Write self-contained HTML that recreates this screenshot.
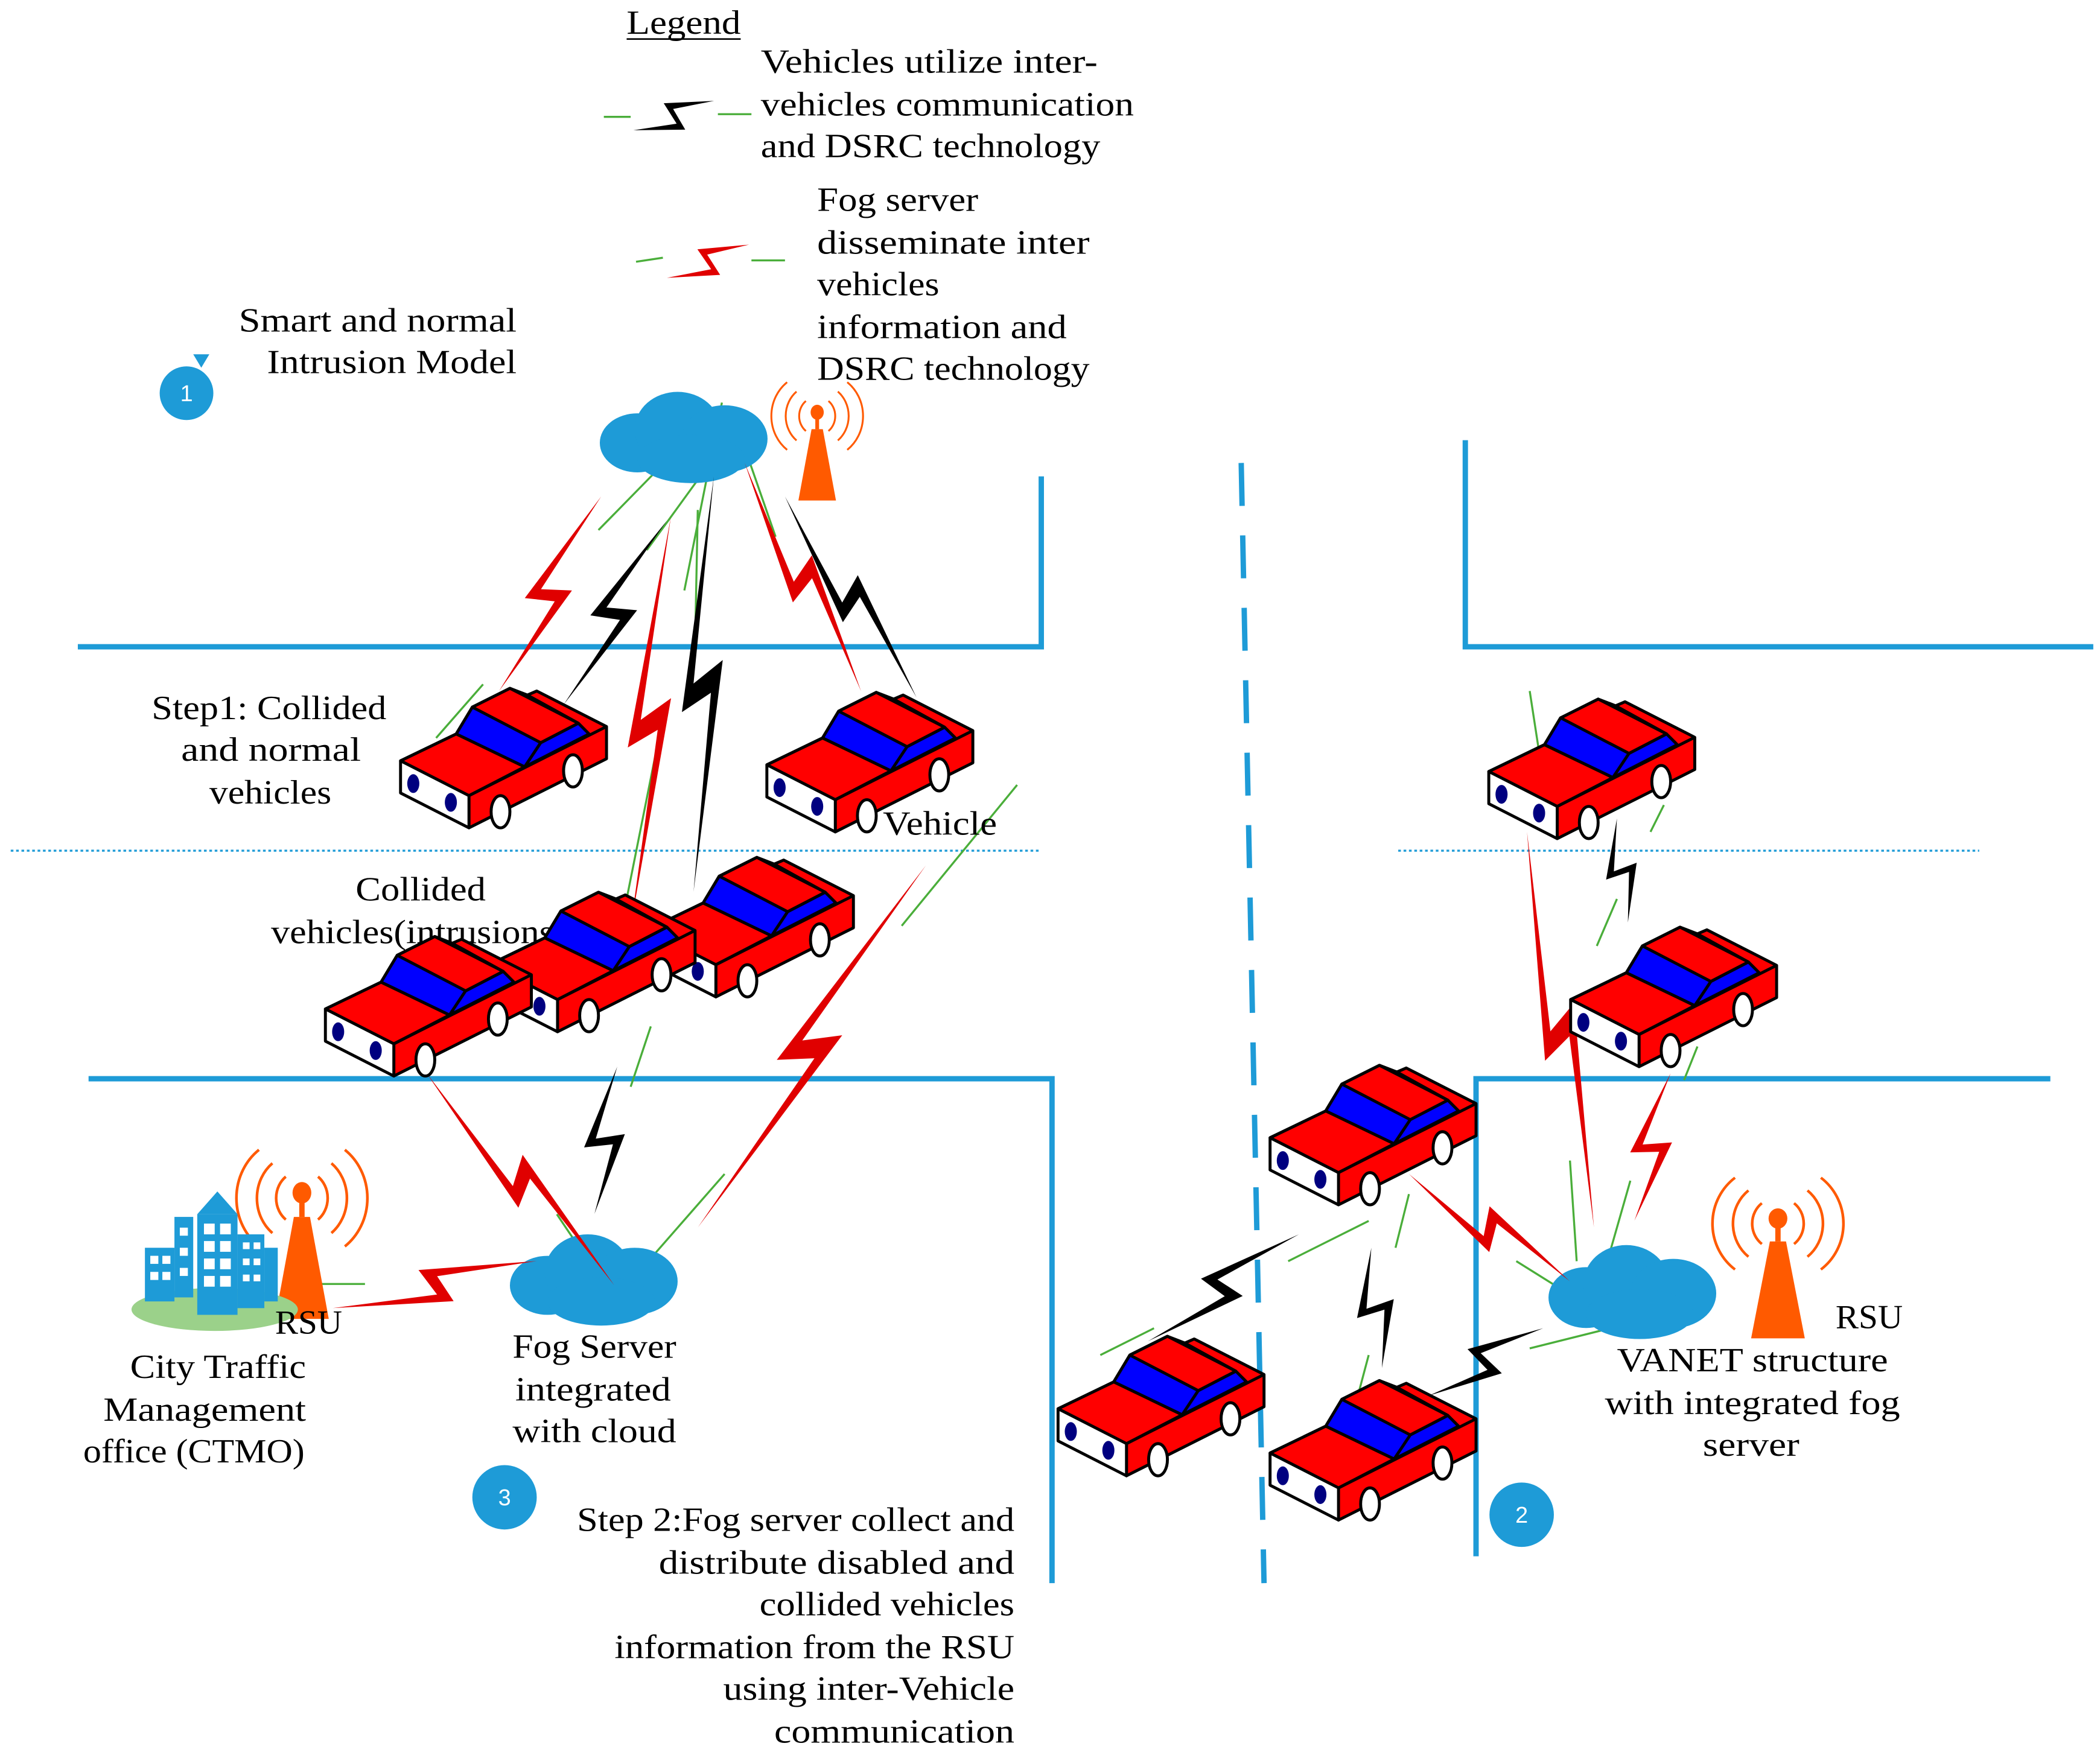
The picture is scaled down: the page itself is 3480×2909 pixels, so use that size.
<!DOCTYPE html>
<html><head><meta charset="utf-8"><style>
html,body{margin:0;padding:0;background:#fff;}
svg{display:block;}
text{font-family:"Liberation Serif",serif;font-size:25px;fill:#000;}
</style></head><body>
<svg width="3480" height="2909" viewBox="0 0 1565 1308" xmlns="http://www.w3.org/2000/svg">
<defs>
<g id="car" stroke="#000" stroke-width="2.2" stroke-linejoin="round">
<polygon points="10.5,72 52,52 64,32 92,18 105,23 112,20 164,46.5 164,70.5 61.5,122 61.5,98" fill="#f00"/>
<polygon points="10.5,72 61.5,98 61.5,122 10.5,96" fill="#fff"/>
<polygon points="52,52 64,32 115,58.5 103,76.5" fill="#00f"/>
<polygon points="115,58.5 143,44 151,52 103,76.5" fill="#00f"/>
<polyline points="10.5,72 52,52 103,76.5 61.5,98" fill="none"/>
<polyline points="64,32 92,18 143,44 115,58.5" fill="none"/>
<polyline points="105,23 143,44" fill="none"/>
<polyline points="61.5,98 164,46.5" fill="none"/>
<ellipse cx="139" cy="79.5" rx="7" ry="12" fill="#fff"/>
<ellipse cx="85" cy="110" rx="7" ry="12" fill="#fff"/>
<ellipse cx="20" cy="89" rx="4.5" ry="7" fill="#000080" stroke="none"/>
<ellipse cx="48" cy="103" rx="4.5" ry="7" fill="#000080" stroke="none"/>
</g>
<polygon id="bolt" points="0,0 50,4 44,-7 100,0 52,-3 57,8"/>
<g id="cloud" fill="#1e9bd7">
<ellipse cx="30" cy="38" rx="28" ry="22"/>
<ellipse cx="60" cy="28" rx="32" ry="28"/>
<ellipse cx="95" cy="35" rx="32" ry="25"/>
<ellipse cx="70" cy="50" rx="40" ry="18"/>
</g>
<g id="tower">
<g fill="none" stroke="#ff5a00" stroke-width="2">
<path d="M-12,-16 A18,20 0 0 0 -12,16"/><path d="M12,-16 A18,20 0 0 1 12,16"/>
<path d="M-22,-26 A30,33 0 0 0 -22,26"/><path d="M22,-26 A30,33 0 0 1 22,26"/>
<path d="M-32,-36 A42,45 0 0 0 -32,36"/><path d="M32,-36 A42,45 0 0 1 32,36"/>
</g>
<ellipse cx="0" cy="-4" rx="7" ry="8" fill="#ff5a00"/>
<rect x="-2" y="0" width="4" height="14" fill="#ff5a00"/>
<polygon points="-6,14 6,14 20,90 -20,90" fill="#ff5a00"/>
</g>
</defs>

<g stroke="#1e9bd7" stroke-width="4" fill="none">
<polyline points="58,482 776,482 776,355"/>
<polyline points="1092,328 1092,482 1560,482"/>
<polyline points="66,804 784,804 784,1180"/>
<polyline points="1100,1160 1100,804 1528,804"/>
<line x1="925" y1="345" x2="942" y2="1180" stroke-dasharray="32,22"/>
</g>
<g stroke="#1e9bd7" stroke-width="1.5" stroke-dasharray="2,2">
<line x1="8" y1="634" x2="775" y2="634"/>
<line x1="1042" y1="634" x2="1475" y2="634"/>
</g>

<g stroke="#4aae3a" stroke-width="1.5">
<line x1="538" y1="300" x2="510" y2="440"/><line x1="545" y1="305" x2="578" y2="400"/>
<line x1="495" y1="345" x2="446" y2="395"/><line x1="540" y1="330" x2="482" y2="410"/>
<line x1="520" y1="380" x2="518" y2="480"/><line x1="360" y1="510" x2="325" y2="550"/>
<line x1="758" y1="585" x2="672" y2="690"/><line x1="490" y1="555" x2="465" y2="680"/>
<line x1="485" y1="765" x2="470" y2="810"/><line x1="540" y1="875" x2="470" y2="955"/>
<line x1="415" y1="905" x2="462" y2="975"/><line x1="240" y1="957" x2="272" y2="957"/>
<line x1="1140" y1="515" x2="1150" y2="580"/><line x1="1240" y1="600" x2="1230" y2="620"/>
<line x1="1205" y1="670" x2="1190" y2="705"/><line x1="1265" y1="780" x2="1255" y2="805"/>
<line x1="1170" y1="865" x2="1175" y2="940"/><line x1="1215" y1="880" x2="1195" y2="950"/>
<line x1="1130" y1="940" x2="1170" y2="965"/><line x1="1140" y1="1005" x2="1200" y2="990"/>
<line x1="1020" y1="910" x2="960" y2="940"/><line x1="1050" y1="890" x2="1040" y2="930"/>
<line x1="860" y1="990" x2="820" y2="1010"/><line x1="1020" y1="1010" x2="1012" y2="1040"/>
<line x1="450" y1="87" x2="470" y2="87"/><line x1="535" y1="85" x2="560" y2="85"/>
<line x1="474" y1="195" x2="494" y2="192"/><line x1="560" y1="194" x2="585" y2="194"/>
</g>

<use href="#cloud" transform="translate(445,292)"/>
<use href="#cloud" transform="translate(378,920)"/>
<use href="#cloud" transform="translate(1152,928) scale(1,1.03)"/>
<use href="#tower" transform="translate(609,310) scale(0.7)"/>
<use href="#tower" transform="translate(225,893)"/>
<use href="#tower" transform="translate(1325,912) scale(1,0.95)"/>
<g>
<ellipse cx="160" cy="976" rx="62" ry="16" fill="#9bd18a"/>
<g fill="#1e9bd7">
<rect x="108" y="930" width="22" height="40"/>
<rect x="130" y="907" width="14" height="60"/>
<rect x="147" y="905" width="30" height="75"/>
<polygon points="147,905 162,888 177,905"/>
<rect x="177" y="920" width="20" height="55"/>
<rect x="197" y="930" width="10" height="40"/>
</g>
<g fill="#fff">
<rect x="152" y="912" width="8" height="8"/><rect x="164" y="912" width="8" height="8"/>
<rect x="152" y="925" width="8" height="8"/><rect x="164" y="925" width="8" height="8"/>
<rect x="152" y="938" width="8" height="8"/><rect x="164" y="938" width="8" height="8"/>
<rect x="152" y="951" width="8" height="8"/><rect x="164" y="951" width="8" height="8"/>
<rect x="112" y="936" width="6" height="6"/><rect x="121" y="936" width="6" height="6"/>
<rect x="112" y="948" width="6" height="6"/><rect x="121" y="948" width="6" height="6"/>
<rect x="181" y="926" width="5" height="5"/><rect x="189" y="926" width="5" height="5"/>
<rect x="181" y="938" width="5" height="5"/><rect x="189" y="938" width="5" height="5"/>
<rect x="181" y="950" width="5" height="5"/><rect x="189" y="950" width="5" height="5"/>
<rect x="134" y="915" width="6" height="6"/><rect x="134" y="930" width="6" height="6"/><rect x="134" y="945" width="6" height="6"/>
</g>
</g>

<g>
<use href="#bolt" fill="#e00000" transform="translate(448,370) rotate(117.7) scale(1.64,1.9)"/>
<use href="#bolt" fill="#000" transform="translate(497,388) rotate(119.3) scale(1.57,1.9)"/>
<use href="#bolt" fill="#e00000" transform="translate(500,385) rotate(95.6) scale(3.06,1.9)"/>
<use href="#bolt" fill="#000" transform="translate(532,355) rotate(92.8) scale(3.1,1.9)"/>
<use href="#bolt" fill="#e00000" transform="translate(555,345) rotate(63) scale(1.91,1.9)"/>
<use href="#bolt" fill="#000" transform="translate(585,370) rotate(56.8) scale(1.79,1.9)"/>
<use href="#bolt" fill="#e00000" transform="translate(690,645) rotate(122.2) scale(3.19,2.1)"/>
<use href="#bolt" fill="#000" transform="translate(460,795) rotate(98.8) scale(1.11,1.9)"/>
<use href="#bolt" fill="#e00000" transform="translate(318,800) rotate(48.5) scale(2.11,1.9)"/>
<use href="#bolt" fill="#e00000" transform="translate(248,975) rotate(-13) scale(1.56,1.9)"/>
<use href="#bolt" fill="#e00000" transform="translate(1138,620) rotate(80.4) scale(2.99,1.9)"/>
<use href="#bolt" fill="#000" transform="translate(1205,610) rotate(84) scale(0.78,1.6)"/>
<use href="#bolt" fill="#e00000" transform="translate(1245,800) rotate(103.8) scale(1.13,1.9)"/>
<use href="#bolt" fill="#e00000" transform="translate(1050,875) rotate(33.7) scale(1.44,1.9)"/>
<use href="#bolt" fill="#000" transform="translate(968,920) rotate(144.7) scale(1.38,1.9)"/>
<use href="#bolt" fill="#000" transform="translate(1022,930) rotate(85) scale(0.9,1.9)"/>
<use href="#bolt" fill="#000" transform="translate(1150,990) rotate(149.5) scale(0.99,1.9)"/>
<use href="#bolt" fill="#000" transform="translate(472,97) rotate(-20) scale(0.64,1.6)"/>
<use href="#bolt" fill="#e00000" transform="translate(497,207) rotate(-22) scale(0.66,1.6)"/>
</g>

<text x="265" y="671" textLength="97" lengthAdjust="spacingAndGlyphs">Collided</text>
<text x="202" y="703" textLength="220" lengthAdjust="spacingAndGlyphs">vehicles(intrusions)</text>

<use href="#car" transform="translate(288,495)"/>
<use href="#car" transform="translate(561,498)"/>
<use href="#car" transform="translate(472,621)"/>
<use href="#car" transform="translate(354,647)"/>
<use href="#car" transform="translate(232,680)"/>
<use href="#car" transform="translate(1099,503)"/>
<use href="#car" transform="translate(1160,673)"/>
<use href="#car" transform="translate(936,776)"/>
<use href="#car" transform="translate(778,978)"/>
<use href="#car" transform="translate(936,1011)"/>

<g fill="#1e9bd7">
<circle cx="139" cy="293" r="20"/><polygon points="144,264 156,264 150,274"/>
<circle cx="376" cy="1116" r="24"/>
<circle cx="1134" cy="1129" r="24"/>
</g>
<text x="139" y="299" text-anchor="middle" style="fill:#fff;font-family:'Liberation Sans',sans-serif;font-size:17px">1</text>
<text x="376" y="1122" text-anchor="middle" style="fill:#fff;font-family:'Liberation Sans',sans-serif;font-size:17px">3</text>
<text x="1134" y="1135" text-anchor="middle" style="fill:#fff;font-family:'Liberation Sans',sans-serif;font-size:17px">2</text>

<text x="467" y="25" textLength="85" lengthAdjust="spacingAndGlyphs">Legend</text>
<line x1="467" y1="29" x2="552" y2="29" stroke="#000" stroke-width="1.2"/>
<text x="567" y="54" textLength="251" lengthAdjust="spacingAndGlyphs">Vehicles utilize  inter-</text>
<text x="567" y="86" textLength="278" lengthAdjust="spacingAndGlyphs">vehicles communication</text>
<text x="567" y="117" textLength="253" lengthAdjust="spacingAndGlyphs">and DSRC technology</text>
<text x="609" y="157" textLength="120" lengthAdjust="spacingAndGlyphs">Fog server</text>
<text x="609" y="189" textLength="203" lengthAdjust="spacingAndGlyphs">disseminate  inter</text>
<text x="609" y="220" textLength="91" lengthAdjust="spacingAndGlyphs">vehicles</text>
<text x="609" y="252" textLength="186" lengthAdjust="spacingAndGlyphs">information and</text>
<text x="609" y="283" textLength="203" lengthAdjust="spacingAndGlyphs">DSRC technology</text>
<text x="178" y="247" textLength="207" lengthAdjust="spacingAndGlyphs">Smart and normal</text>
<text x="199" y="278" textLength="186" lengthAdjust="spacingAndGlyphs">Intrusion Model</text>
<text x="113" y="536" textLength="175" lengthAdjust="spacingAndGlyphs">Step1: Collided</text>
<text x="135" y="567" textLength="134" lengthAdjust="spacingAndGlyphs">and normal</text>
<text x="156" y="599" textLength="91" lengthAdjust="spacingAndGlyphs">vehicles</text>
<text x="658" y="622" textLength="85" lengthAdjust="spacingAndGlyphs">Vehicle</text>
<text x="205" y="994" textLength="50" lengthAdjust="spacingAndGlyphs">RSU</text>
<text x="97" y="1027" textLength="131" lengthAdjust="spacingAndGlyphs">City Traffic</text>
<text x="77" y="1059" textLength="151" lengthAdjust="spacingAndGlyphs">Management</text>
<text x="62" y="1090" textLength="165" lengthAdjust="spacingAndGlyphs">office (CTMO)</text>
<text x="382" y="1012" textLength="122" lengthAdjust="spacingAndGlyphs">Fog Server</text>
<text x="384" y="1044" textLength="116" lengthAdjust="spacingAndGlyphs">integrated</text>
<text x="382" y="1075" textLength="122" lengthAdjust="spacingAndGlyphs">with cloud</text>
<text x="1368" y="990" textLength="50" lengthAdjust="spacingAndGlyphs">RSU</text>
<text x="1205" y="1022" textLength="202" lengthAdjust="spacingAndGlyphs">VANET structure</text>
<text x="1196" y="1054" textLength="220" lengthAdjust="spacingAndGlyphs">with integrated fog</text>
<text x="1269" y="1085" textLength="72" lengthAdjust="spacingAndGlyphs">server</text>
<text x="430" y="1141" textLength="326" lengthAdjust="spacingAndGlyphs">Step 2:Fog server collect and</text>
<text x="491" y="1173" textLength="265" lengthAdjust="spacingAndGlyphs">distribute disabled and</text>
<text x="566" y="1204" textLength="190" lengthAdjust="spacingAndGlyphs">collided vehicles</text>
<text x="458" y="1236" textLength="298" lengthAdjust="spacingAndGlyphs">information from the RSU</text>
<text x="539" y="1267" textLength="217" lengthAdjust="spacingAndGlyphs">using inter-Vehicle</text>
<text x="577" y="1299" textLength="179" lengthAdjust="spacingAndGlyphs">communication</text>
</svg>
</body></html>
